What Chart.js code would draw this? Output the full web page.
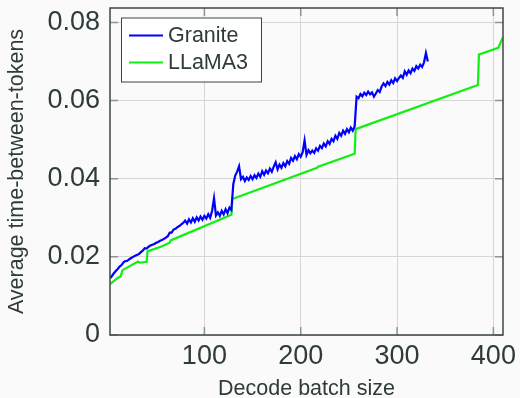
<!DOCTYPE html>
<html>
<head>
<meta charset="utf-8">
<script src="https://cdn.jsdelivr.net/npm/chart.js@4.4.0/dist/chart.umd.min.js"></script>
<style>
  html, body { margin: 0; padding: 0; background: #fafafa; }
  #wrap { width: 520px; height: 398px; }
</style>
</head>
<body>
<div id="wrap"><canvas id="myChart" width="520" height="398"></canvas></div>
<script>
// Granite: one reading every 2 batch sizes, from batch size 2 up to 332
const graniteStart = 2;
const graniteStep = 2;
const graniteTbt = [
  0.0145, 0.0151, 0.0158, 0.0164, 0.0169, 0.0175, 0.0179, 0.0186, 0.0189, 0.0190,
  0.0194, 0.0197, 0.0200, 0.0203, 0.0205, 0.0207, 0.0212, 0.0216, 0.0222, 0.0221,
  0.0226, 0.0229, 0.0231, 0.0233, 0.0236, 0.0238, 0.0241, 0.0243, 0.0246, 0.0249,
  0.0253, 0.0262, 0.0262, 0.0270, 0.0272, 0.0276, 0.0279, 0.0283, 0.0287, 0.0293,
  0.0285, 0.0296, 0.0288, 0.0299, 0.0290, 0.0301, 0.0293, 0.0303, 0.0295, 0.0305,
  0.0298, 0.0309, 0.0300, 0.0318, 0.0350, 0.0306, 0.0314, 0.0305, 0.0318, 0.0309,
  0.0322, 0.0312, 0.0326, 0.0320, 0.0386, 0.0408, 0.0418, 0.0432, 0.0399, 0.0405,
  0.0394, 0.0403, 0.0397, 0.0407, 0.0399, 0.0409, 0.0402, 0.0413, 0.0405, 0.0419,
  0.0410, 0.0421, 0.0414, 0.0426, 0.0418, 0.0431, 0.0442, 0.0424, 0.0436, 0.0428,
  0.0440, 0.0432, 0.0445, 0.0438, 0.0453, 0.0446, 0.0458, 0.0450, 0.0463, 0.0456,
  0.0468, 0.0498, 0.0461, 0.0473, 0.0465, 0.0472, 0.0466, 0.0478, 0.0472, 0.0484,
  0.0478, 0.0490, 0.0483, 0.0496, 0.0489, 0.0502, 0.0496, 0.0510, 0.0502, 0.0517,
  0.0510, 0.0523, 0.0515, 0.0527, 0.0519, 0.0531, 0.0523, 0.0534, 0.0610, 0.0606,
  0.0617, 0.0611, 0.0620, 0.0614, 0.0623, 0.0616, 0.0621, 0.0610, 0.0618, 0.0627,
  0.0622, 0.0636, 0.0644, 0.0637, 0.0648, 0.0641, 0.0652, 0.0645, 0.0657, 0.0650,
  0.0658, 0.0664, 0.0658, 0.0675, 0.0666, 0.0677, 0.0670, 0.0682, 0.0676, 0.0688,
  0.0682, 0.0692, 0.0686, 0.0698, 0.0722, 0.0700
];

// LLaMA3: corners of the stepped curve
const llamaBatch = [2, 10, 13, 15, 31, 33, 40, 41, 56, 64, 65, 128, 129, 217, 218, 256, 257, 384, 385, 405, 410];
const llamaTbt = [0.0130, 0.0146, 0.0150, 0.0166, 0.0188, 0.0185, 0.0187, 0.0214, 0.0227, 0.0236, 0.0242,
  0.0308, 0.0348, 0.0428, 0.0431, 0.0464, 0.0527, 0.0640, 0.0718, 0.0735, 0.0762];

const xTicks = [100, 200, 300, 400];
const yTicks = [0, 0.02, 0.04, 0.06, 0.08];

const textColor = "#2f3a3a";
const fontFamily = "'Liberation Sans', Arial, sans-serif";

const granitePoints = graniteTbt.map((v, i) => ({ x: graniteStart + i * graniteStep, y: v }));
const llamaPoints = llamaBatch.map((b, i) => ({ x: b, y: llamaTbt[i] }));

// box, inside ticks and legend, drawn like a matlab figure
const framePlugin = {
  id: "frame",
  beforeDraw(chart) {
    const ctx = chart.ctx;
    ctx.save();
    ctx.fillStyle = "#fafafa";
    ctx.fillRect(0, 0, chart.width, chart.height);
    ctx.restore();
  },
  afterDraw(chart) {
    const ctx = chart.ctx;
    const a = chart.chartArea;
    const xs = chart.scales.x;
    const ys = chart.scales.y;
    ctx.save();

    ctx.strokeStyle = "#8e9494";
    ctx.lineWidth = 1.5;
    ctx.beginPath();
    xTicks.forEach((v) => {
      const px = xs.getPixelForValue(v);
      ctx.moveTo(px, a.bottom);
      ctx.lineTo(px, a.bottom - 8);
      ctx.moveTo(px, a.top);
      ctx.lineTo(px, a.top + 8);
    });
    yTicks.forEach((v) => {
      const py = ys.getPixelForValue(v);
      ctx.moveTo(a.left, py);
      ctx.lineTo(a.left + 8, py);
      ctx.moveTo(a.right, py);
      ctx.lineTo(a.right - 8, py);
    });
    ctx.stroke();

    ctx.strokeStyle = "#3c4646";
    ctx.lineWidth = 1.5;
    ctx.strokeRect(a.left, a.top, a.right - a.left, a.bottom - a.top);

    // legend
    const lx = a.left + 11;
    const ly = a.top + 9.5;
    ctx.fillStyle = "#ffffff";
    ctx.fillRect(lx, ly, 140, 64);
    ctx.strokeStyle = "#3a4444";
    ctx.lineWidth = 1;
    ctx.strokeRect(lx + 0.5, ly + 0.5, 140, 64);
    ctx.font = "21.5px " + fontFamily;
    ctx.textBaseline = "middle";
    ctx.textAlign = "left";
    chart.data.datasets.forEach((ds, i) => {
      const y = ly + 18 + i * 27;
      ctx.strokeStyle = ds.borderColor;
      ctx.lineWidth = 2;
      ctx.beginPath();
      ctx.moveTo(lx + 8, y);
      ctx.lineTo(lx + 42, y);
      ctx.stroke();
      ctx.fillStyle = textColor;
      ctx.fillText(ds.label, lx + 47, y + 1);
    });
    ctx.restore();
  },
};

const ctx = document.getElementById("myChart").getContext("2d");

const myChart = new Chart(ctx, {
  type: "line",
  data: {
    datasets: [
      {
        label: "Granite",
        data: granitePoints,
        borderColor: "#0000ff",
        borderWidth: 2.2,
        pointRadius: 0,
        tension: 0,
      },
      {
        label: "LLaMA3",
        data: llamaPoints,
        borderColor: "#11ee11",
        borderWidth: 2.2,
        pointRadius: 0,
        tension: 0,
      },
    ],
  },
  options: {
    responsive: false,
    animation: false,
    devicePixelRatio: 1,
    layout: { padding: { left: 0, right: 17, top: 8, bottom: 0 } },
    plugins: {
      legend: { display: false },
      tooltip: { enabled: false },
    },
    scales: {
      x: {
        type: "linear",
        min: 2,
        max: 410,
        afterBuildTicks: (scale) => {
          scale.ticks = xTicks.map((v) => ({ value: v }));
        },
        afterFit: (scale) => {
          scale.height = 63;
          scale.paddingLeft = 0;
          scale.paddingRight = 0;
        },
        grid: { color: "#d6d6d6", lineWidth: 1, drawTicks: false },
        border: { display: false },
        ticks: {
          color: textColor,
          font: { family: fontFamily, size: 27 },
          padding: 5,
          maxRotation: 0,
        },
        title: {
          display: true,
          text: "Decode batch size",
          color: textColor,
          font: { family: fontFamily, size: 21.5, lineHeight: 0.85 },
          padding: { top: 0, bottom: 0 },
        },
      },
      y: {
        type: "linear",
        min: 0,
        max: 0.0837,
        afterBuildTicks: (scale) => {
          scale.ticks = yTicks.map((v) => ({ value: v }));
        },
        afterFit: (scale) => {
          scale.width = 110;
          scale.paddingTop = 0;
          scale.paddingBottom = 0;
        },
        grid: { color: "#d6d6d6", lineWidth: 1, drawTicks: false },
        border: { display: false },
        ticks: {
          color: textColor,
          font: { family: fontFamily, size: 27 },
          padding: 10,
          callback: (v) => (v === 0 ? "0" : v.toFixed(2)),
        },
        title: {
          display: true,
          text: "Average time-between-tokens",
          color: textColor,
          font: { family: fontFamily, size: 21.5, lineHeight: 1 },
          padding: { top: 6, bottom: 0 },
        },
      },
    },
  },
  plugins: [framePlugin],
});
</script>
</body>
</html>
